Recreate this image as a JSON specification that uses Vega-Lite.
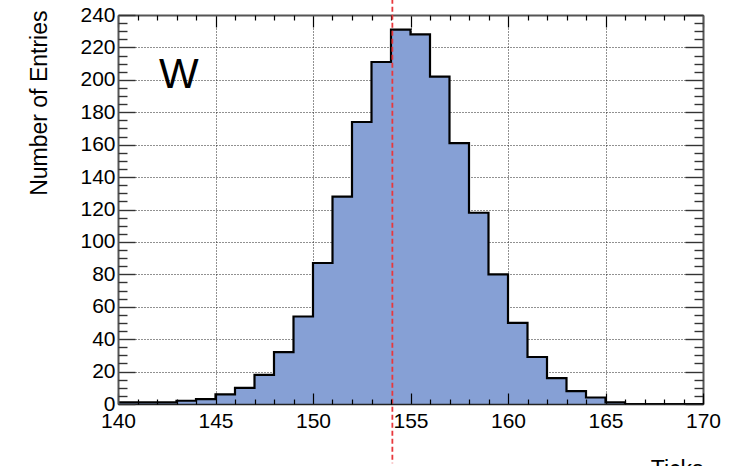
{
  "$schema": "https://vega.github.io/schema/vega-lite/v6.json",
  "width": 585,
  "height": 389,
  "autosize": {"type": "none"},
  "padding": {"left": 118, "top": 15, "right": 45, "bottom": 62},
  "background": "white",
  "config": {
    "view": {"stroke": null},
    "font": "Liberation Sans",
    "axis": {"labelFont": "Liberation Sans", "titleFont": "Liberation Sans", "labelColor": "black", "titleColor": "black", "labelFlush": false, "labelOverlap": false}
  },
  "datasets": {
    "hist": [
      {"ticks": 140, "entries": 1}, {"ticks": 141, "entries": 1}, {"ticks": 142, "entries": 1},
      {"ticks": 143, "entries": 2}, {"ticks": 144, "entries": 3}, {"ticks": 145, "entries": 6},
      {"ticks": 146, "entries": 10}, {"ticks": 147, "entries": 18}, {"ticks": 148, "entries": 32},
      {"ticks": 149, "entries": 54}, {"ticks": 150, "entries": 87}, {"ticks": 151, "entries": 128},
      {"ticks": 152, "entries": 174}, {"ticks": 153, "entries": 211}, {"ticks": 154, "entries": 231},
      {"ticks": 155, "entries": 228}, {"ticks": 156, "entries": 202}, {"ticks": 157, "entries": 161},
      {"ticks": 158, "entries": 118}, {"ticks": 159, "entries": 80}, {"ticks": 160, "entries": 50},
      {"ticks": 161, "entries": 29}, {"ticks": 162, "entries": 16}, {"ticks": 163, "entries": 8},
      {"ticks": 164, "entries": 4}, {"ticks": 165, "entries": 1}, {"ticks": 166, "entries": 0},
      {"ticks": 167, "entries": 0}, {"ticks": 168, "entries": 0}, {"ticks": 169, "entries": 0},
      {"ticks": 170, "entries": 0}
    ]
  },
  "layer": [
    {
      "data": {"name": "hist"},
      "mark": {"type": "area", "interpolate": "step-after", "color": "#86a0d5", "opacity": 1},
      "encoding": {
        "x": {"field": "ticks", "type": "quantitative",
          "scale": {"domain": [140, 170], "nice": false, "zero": false},
          "axis": {"orient": "bottom", "values": [140, 145, 150, 155, 160, 165, 170], "format": "d",
            "grid": false, "zindex": 1, "tickSize": -11, "tickColor": "black", "tickWidth": 1.2,
            "domain": true, "domainColor": "#222", "domainWidth": 1.5,
            "labelFontSize": 21, "labelPadding": 17.5, "labelBaseline": "top",
            "title": "Ticks", "titleFontSize": 23, "titleFontWeight": "normal",
            "titleAlign": "right", "titleBaseline": "alphabetic", "titleX": 585, "titleY": 72.5}},
        "y": {"field": "entries", "type": "quantitative",
          "scale": {"domain": [0, 240], "nice": false, "zero": false},
          "axis": {"orient": "left", "values": [0, 20, 40, 60, 80, 100, 120, 140, 160, 180, 200, 220, 240], "format": "d",
            "grid": false, "zindex": 1, "tickSize": -17, "tickColor": "#333", "tickWidth": 1.4,
            "domain": true, "domainColor": "#555", "domainWidth": 2,
            "labelFontSize": 21, "labelPadding": 20,
            "title": "Number of Entries", "titleFontSize": 23, "titleFontWeight": "normal",
            "titleAngle": 270, "titleAlign": "right", "titleBaseline": "alphabetic", "titleX": -72, "titleY": -5}}
      }
    },
    {
      "data": {"name": "hist"},
      "mark": {"type": "line", "interpolate": "step-after", "color": "black", "strokeWidth": 2.2},
      "encoding": {
        "x": {"field": "ticks", "type": "quantitative",
          "scale": {"domain": [140, 170], "nice": false, "zero": false},
          "axis": {"orient": "bottom", "values": [141, 142, 143, 144, 146, 147, 148, 149, 151, 152, 153, 154, 156, 157, 158, 159, 161, 162, 163, 164, 166, 167, 168, 169],
            "grid": false, "zindex": 1, "tickSize": -5, "tickColor": "black", "tickWidth": 1.2,
            "domain": false, "labels": false, "title": null}},
        "y": {"field": "entries", "type": "quantitative",
          "scale": {"domain": [0, 240], "nice": false, "zero": false},
          "axis": {"orient": "left", "values": [5, 10, 15, 25, 30, 35, 45, 50, 55, 65, 70, 75, 85, 90, 95, 105, 110, 115, 125, 130, 135, 145, 150, 155, 165, 170, 175, 185, 190, 195, 205, 210, 215, 225, 230, 235],
            "grid": false, "zindex": 1, "tickSize": -9, "tickColor": "#333", "tickWidth": 1.4,
            "domain": false, "labels": false, "title": null}}
      }
    },
    {
      "data": {"values": [{"label": "W", "x": 143.12, "y": 195}]},
      "mark": {"type": "text", "fontSize": 42, "font": "Liberation Sans", "align": "center", "baseline": "alphabetic", "color": "black"},
      "encoding": {
        "text": {"field": "label"},
        "x": {"field": "x", "type": "quantitative",
          "scale": {"domain": [140, 170], "nice": false, "zero": false},
          "axis": {"orient": "top", "values": [140, 145, 150, 155, 160, 165, 170],
            "grid": true, "gridColor": "#222", "gridDash": [1, 2], "gridWidth": 1,
            "zindex": 0, "tickSize": -12, "tickColor": "black", "tickWidth": 1.2,
            "domain": true, "domainColor": "#555", "domainWidth": 2, "labels": false, "title": null}},
        "y": {"field": "y", "type": "quantitative",
          "scale": {"domain": [0, 240], "nice": false, "zero": false},
          "axis": {"orient": "right", "values": [0, 20, 40, 60, 80, 100, 120, 140, 160, 180, 200, 220, 240],
            "grid": true, "gridColor": "#222", "gridDash": [1, 2], "gridWidth": 1,
            "zindex": 0, "tickSize": -18, "tickColor": "#333", "tickWidth": 1.4,
            "domain": true, "domainColor": "#555", "domainWidth": 2, "labels": false, "title": null}}
      }
    },
    {
      "data": {"values": [{"x": 154.07, "top": 250, "bottom": -36.5}]},
      "mark": {"type": "rule", "color": "#e8383d", "strokeWidth": 1.8, "strokeDash": [5, 3], "clip": false},
      "encoding": {
        "x": {"field": "x", "type": "quantitative",
          "scale": {"domain": [140, 170], "nice": false, "zero": false},
          "axis": {"orient": "top", "values": [141, 142, 143, 144, 146, 147, 148, 149, 151, 152, 153, 154, 156, 157, 158, 159, 161, 162, 163, 164, 166, 167, 168, 169],
            "grid": false, "zindex": 0, "tickSize": -5, "tickColor": "black", "tickWidth": 1.2,
            "domain": false, "labels": false, "title": null}},
        "y": {"field": "top", "type": "quantitative",
          "scale": {"domain": [0, 240], "nice": false, "zero": false},
          "axis": {"orient": "right", "values": [5, 10, 15, 25, 30, 35, 45, 50, 55, 65, 70, 75, 85, 90, 95, 105, 110, 115, 125, 130, 135, 145, 150, 155, 165, 170, 175, 185, 190, 195, 205, 210, 215, 225, 230, 235],
            "grid": false, "zindex": 0, "tickSize": -9, "tickColor": "#333", "tickWidth": 1.4,
            "domain": false, "labels": false, "title": null}},
        "y2": {"field": "bottom"}
      }
    }
  ],
  "resolve": {"axis": {"x": "independent", "y": "independent"}}
}
